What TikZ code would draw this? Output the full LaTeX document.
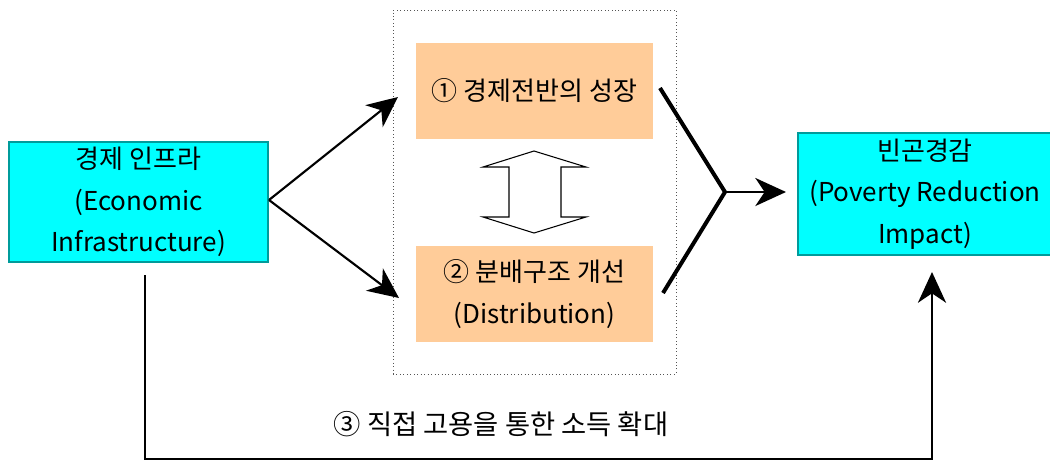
\documentclass[tikz,border=0pt]{standalone}
\usepackage{fontspec}
\setmainfont{Noto Sans CJK KR}
\usetikzlibrary{arrows.meta,calc}
\definecolor{boxcyan}{HTML}{00FFFF}
\definecolor{boxedge}{HTML}{009B9B}
\definecolor{peach}{HTML}{FFCC99}
\definecolor{framegray}{HTML}{555555}

\begin{document}
\begin{tikzpicture}[x=0.75pt,y=-0.75pt,
  boxtext/.style={inner sep=0pt, align=center, font=\fontsize{19.5}{31}\selectfont},
  cyanbox/.style={boxtext, draw=boxedge, line width=1.2pt, fill=boxcyan},
  peachbox/.style={boxtext, fill=peach, minimum width=177.75pt, minimum height=72pt},
  bigtip/.style={-{Stealth[length=23pt,width=21pt,inset=7pt]}},
  flow/.style={bigtip, line width=1.6pt},
  mergeline/.style={line width=3pt},
  loopline/.style={bigtip, line width=2.2pt}]

\useasboundingbox (0,0) rectangle (1050,461);

% dotted frame holding the two channels
\node[draw=framegray, dotted, line width=0.6pt, minimum width=212.25pt, minimum height=273pt, inner sep=0pt]
  (frame) at (534.5,192) {};

% boxes
\node[cyanbox, minimum width=194.25pt, minimum height=90pt] (infra) at (138.5,202)
  {경제 인프라\\(Economic\\Infrastructure)};
\node[cyanbox, minimum width=190.5pt, minimum height=91.5pt] (poverty) at (925,194)
  {빈곤경감\\(Poverty Reduction\\Impact)};
\node[peachbox] (growth) at (534.5,91) {① 경제전반의 성장};
\node[peachbox] (dist) at (534.5,294) {② 분배구조 개선\\(Distribution)};

% two-way hollow arrow between the channels
\coordinate (mid) at (534.5,192);
\draw[line width=0.8pt, fill=white]
  (534,151) -- (586,167) -- (561,167) -- (561,217) -- (586,217) -- (534,233)
  -- (483,217) -- (509,217) -- (509,167) -- (483,167) -- cycle;

% infrastructure feeds both channels
\coordinate (split) at (269,200);
\coordinate (toGrowth) at (398,97);
\coordinate (toDist) at (399,298);
\draw[flow] (split) -- (toGrowth);
\draw[flow] (split) -- (toDist);

% channels merge into poverty reduction
\coordinate (outGrowth) at (660,88);
\coordinate (outDist) at (663,293);
\coordinate (join) at (725,192);
\coordinate (intoPoverty) at (786,192);
\draw[mergeline] (outGrowth) -- (join) -- (outDist);
\draw[flow, line width=2.2pt] (join) -- (intoPoverty);

% direct employment loop along the bottom
\coordinate (loopStart) at (145,275);
\coordinate (loopLeft) at (145,459);
\coordinate (loopRight) at (932,459);
\coordinate (loopEnd) at (932,272);
\draw[loopline] (loopStart) -- (loopLeft) -- (loopRight) -- (loopEnd);
\node[font=\fontsize{20.5}{22}\selectfont, inner sep=0pt] (direct) at (501,424)
  {③ 직접 고용을 통한 소득 확대};

\end{tikzpicture}
\end{document}
